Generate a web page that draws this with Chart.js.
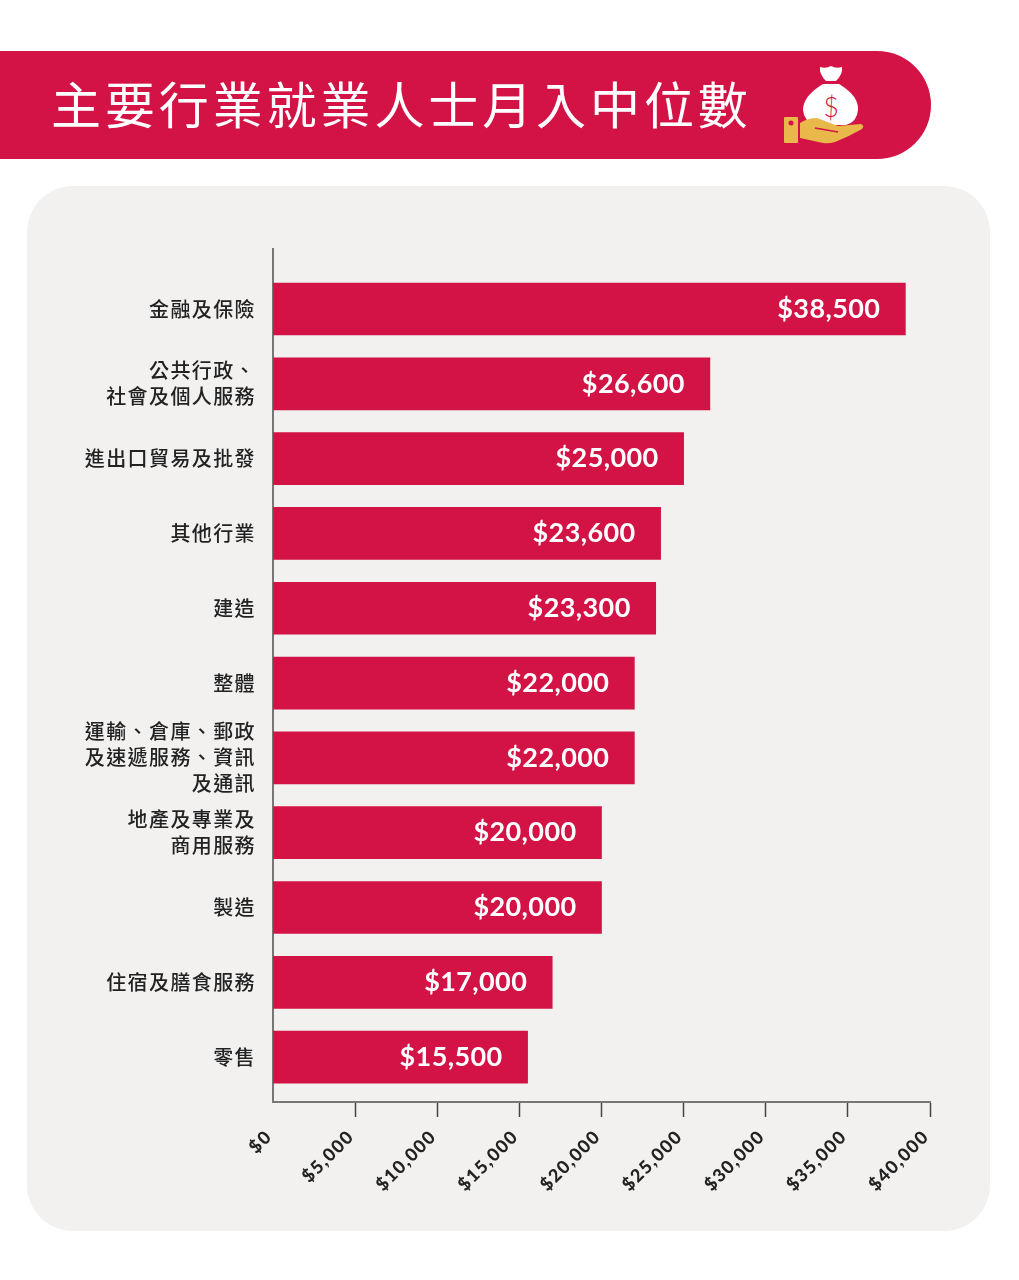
<!DOCTYPE html>
<html>
<head>
<meta charset="utf-8">
<script src="https://cdn.jsdelivr.net/npm/chart.js@4"></script>
<style>
  html, body { margin: 0; padding: 0; background: #fff; }
  #page { position: relative; width: 1019px; height: 1280px; overflow: hidden; }
  #banner { position: absolute; left: 0; top: 51px; width: 931px; height: 108px; background: #d31245; border-radius: 0 54px 54px 0; }
  #title { position: absolute; left: 51px; top: 48px; height: 108px; line-height: 108px; color: #fff; white-space: nowrap;
    font-family: "Noto Sans CJK TC"; font-weight: 400; font-size: 50px; letter-spacing: 3.9px; }
  #card { position: absolute; left: 27px; top: 186px; width: 963px; height: 1045px; background: #f2f1f0; border-radius: 46px; }
  #icon { position: absolute; left: 780px; top: 60px; }
  canvas { position: absolute; left: 0; top: 0; }
</style>
</head>
<body>
<div id="page">
  <div id="banner"></div>
  <div id="title">主要行業就業人士月入中位數</div>
  <svg id="icon" width="90" height="90" viewBox="780 60 90 90">
    <path d="M820 67 Q826 69 831 66 Q836 69 842 67 Q843 74 836 81 L826 81 Q819 74 820 67Z" fill="#fff"/>
    <path d="M823 84 L839 84 Q859 96 858 110 Q857 122 846 125 L816 125 Q804 122 803 110 Q803 96 823 84Z" fill="#fff"/>
    <text x="831" y="117" text-anchor="middle" font-family="Lato" font-weight="300" font-size="27" fill="#d31245">$</text>
    <rect x="784" y="117" width="14" height="26" rx="1" fill="#e8b84a"/>
    <circle cx="791" cy="123" r="2.5" fill="#d31245"/>
    <path d="M800 123 Q808 118 817 118 L838 126 L861 124 Q865 126 862 129 Q850 136 835 142 Q829 144 823 143 L800 138Z" fill="#e8b84a"/>
    <path d="M815 128 L838 132" stroke="#d31245" stroke-width="1.5" fill="none"/>
  </svg>
  <div id="card"></div>
  <canvas id="chart" width="1019" height="1280"></canvas>
</div>
<script>
const categories = [
  ['金融及保險'],
  ['公共行政、', '社會及個人服務'],
  ['進出口貿易及批發'],
  ['其他行業'],
  ['建造'],
  ['整體'],
  ['運輸、倉庫、郵政', '及速遞服務、資訊', '及通訊'],
  ['地產及專業及', '商用服務'],
  ['製造'],
  ['住宿及膳食服務'],
  ['零售']
];
const salaries = [38500, 26600, 25000, 23600, 23300, 22000, 22000, 20000, 20000, 17000, 15500];
const xTicks = [0, 5000, 10000, 15000, 20000, 25000, 30000, 35000, 40000];

const money = v => '$' + v.toLocaleString('en-US');

// axis text in the picture is spaced out a little, chart.js has no option for it
const textSpacing = {
  id: 'textSpacing',
  beforeDraw(chart) {
    chart.ctx.letterSpacing = '1.4px';
  }
};

// draws the white amount inside the end of each bar
const barLabels = {
  id: 'barLabels',
  afterDatasetsDraw(chart) {
    const ctx = chart.ctx;
    ctx.save();
    ctx.letterSpacing = '0.4px';
    ctx.font = '700 27px Lato';
    ctx.fillStyle = '#fff';
    ctx.textAlign = 'right';
    ctx.textBaseline = 'middle';
    chart.getDatasetMeta(0).data.forEach((bar, i) => {
      ctx.fillText(money(salaries[i]), bar.x - 25, bar.y);
    });
    ctx.restore();
  }
};

new Chart(document.getElementById('chart'), {
  type: 'bar',
  data: {
    datasets: [{
      data: salaries.map((v, i) => ({ x: v, y: i })),
      backgroundColor: '#d31245',
      barThickness: 52
    }]
  },
  plugins: [textSpacing, barLabels],
  options: {
    indexAxis: 'y',
    responsive: false,
    animation: false,
    layout: { padding: { top: 249, right: 89, bottom: 0, left: 0 } },
    plugins: { legend: { display: false }, tooltip: { enabled: false } },
    scales: {
      x: {
        type: 'linear',
        min: 0,
        max: 40000,
        afterBuildTicks: axis => { axis.ticks = xTicks.map(v => ({ value: v })); },
        afterFit: axis => { axis.height = 178; },
        border: { color: '#777', width: 2 },
        grid: {
          drawOnChartArea: false,
          tickLength: 15,
          tickWidth: 1.5,
          tickColor: c => (c.index === 0 ? 'transparent' : '#444')
        },
        ticks: {
          autoSkip: false,
          maxRotation: 45,
          minRotation: 45,
          padding: 9,
          labelOffset: -4,
          color: '#222',
          font: { family: 'Lato', weight: '900', size: 18 },
          callback: v => money(v)
        }
      },
      y: {
        type: 'linear',
        reverse: true,
        offset: false,
        min: -0.802,
        max: 10.6,
        afterBuildTicks: axis => { axis.ticks = categories.map((c, i) => ({ value: i })); },
        afterFit: axis => { axis.width = 273; },
        border: { color: '#777', width: 2 },
        grid: { drawOnChartArea: false, drawTicks: false },
        ticks: {
          autoSkip: false,
          padding: 17,
          color: '#222',
          font: { family: '"Noto Sans CJK TC"', weight: '500', size: 20, lineHeight: 1.3 },
          callback: v => categories[v]
        }
      }
    }
  }
});
</script>
</body>
</html>
